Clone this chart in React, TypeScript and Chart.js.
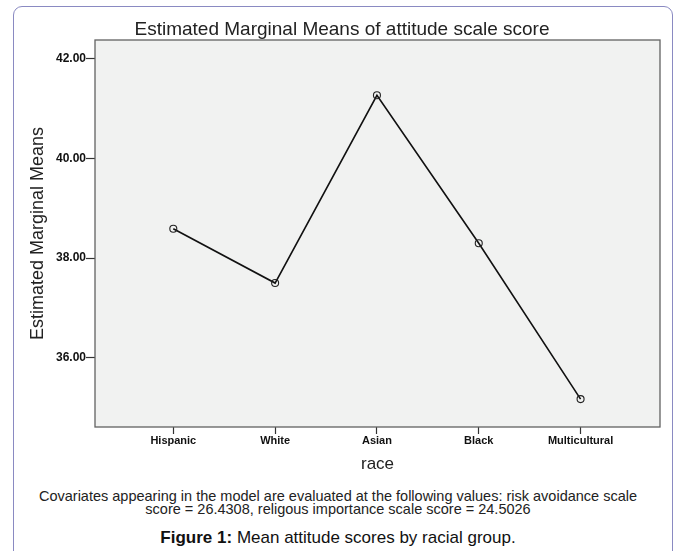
import React, { useEffect, useRef } from "react";
import { Chart, registerables } from "chart.js";

Chart.register(...registerables);

const categories = ["Hispanic", "White", "Asian", "Black", "Multicultural"];
const means = [38.59, 37.5, 41.27, 38.3, 35.17];
const yTicks = [36, 38, 40, 42];

const FONT = "'Liberation Sans', Arial, Helvetica, sans-serif";

const plotFrame = {
  id: "plotFrame",
  beforeDraw(chart: any) {
    const { ctx, chartArea: a } = chart;
    ctx.save();
    ctx.fillStyle = "#f1f2f1";
    ctx.fillRect(a.left, a.top, a.right - a.left, a.bottom - a.top);
    ctx.restore();
  },
  beforeDatasetsDraw(chart: any) {
    const { ctx, chartArea: a } = chart;
    ctx.save();
    ctx.strokeStyle = "#626262";
    ctx.lineWidth = 1.3;
    ctx.strokeRect(a.left, a.top, a.right - a.left, a.bottom - a.top);
    ctx.restore();
  },
};

export default function App() {
  const ref = useRef<HTMLCanvasElement | null>(null);

  useEffect(() => {
    document.body.style.margin = "0";
    const canvas = ref.current;
    if (!canvas) return;
    const chart = new Chart(canvas, {
      type: "line",
      data: {
        datasets: [
          {
            data: means.map((v, i) => ({ x: i, y: v })),
            borderColor: "#111",
            borderWidth: 1.6,
            pointRadius: 3.5,
            pointBorderWidth: 1.1,
            pointBorderColor: "#222",
            pointBackgroundColor: "rgba(0,0,0,0)",
            tension: 0,
          },
        ],
      },
      options: {
        animation: false,
        responsive: false,
        maintainAspectRatio: false,
        layout: { padding: { left: 8, right: 0, top: 0, bottom: 0 } },
        plugins: {
          legend: { display: false },
          tooltip: { enabled: false },
          title: {
            display: true,
            text: "Estimated Marginal Means of attitude scale score",
            color: "#222",
            font: { family: FONT, size: 19, weight: "normal", lineHeight: 1 },
            padding: { top: 20.5, bottom: 0.5 },
          },
        },
        scales: {
          x: {
            type: "linear",
            min: -0.769,
            max: 4.78,
            afterBuildTicks(scale: any) {
              scale.ticks = categories.map((_, i) => ({ value: i }));
            },
            afterFit(scale: any) {
              scale.height = 53;
            },
            ticks: {
              color: "#111",
              padding: 0,
              autoSkip: false,
              maxRotation: 0,
              font: { family: FONT, size: 11, weight: "bold" },
              callback: (v: any) => categories[Number(v)] ?? "",
            },
            grid: {
              drawOnChartArea: false,
              drawTicks: true,
              tickLength: 7,
              tickColor: "#333",
              tickWidth: 1.2,
            },
            border: { display: false },
            title: {
              display: true,
              text: "race",
              color: "#222",
              font: { family: FONT, size: 17, weight: "normal" },
              padding: { top: 0, bottom: 5.8 },
            },
          },
          y: {
            type: "linear",
            min: 34.61,
            max: 42.38,
            afterBuildTicks(scale: any) {
              scale.ticks = yTicks.map((v) => ({ value: v }));
            },
            afterFit(scale: any) {
              scale.width = 87;
            },
            ticks: {
              color: "#111",
              padding: 0,
              font: { family: FONT, size: 12, weight: "bold" },
              callback: (v: any) => Number(v).toFixed(2),
            },
            grid: {
              drawOnChartArea: false,
              drawTicks: true,
              tickLength: 9,
              tickColor: "#333",
              tickWidth: 1.2,
            },
            border: { display: false },
            title: {
              display: true,
              text: "Estimated Marginal Means",
              color: "#222",
              font: { family: FONT, size: 18, weight: "normal" },
              padding: { top: 19.2, bottom: 0 },
            },
          },
          yRight: {
            type: "linear",
            position: "right",
            min: 34.61,
            max: 42.38,
            afterFit(scale: any) {
              scale.width = 16;
            },
            ticks: { display: false },
            grid: { display: false },
            border: { display: false },
          },
        },
      },
      plugins: [plotFrame],
    });
    return () => chart.destroy();
  }, []);

  return (
    <div
      style={{
        position: "relative",
        width: 676,
        height: 551,
        overflow: "hidden",
        background: "#fff",
        fontFamily: FONT,
      }}
    >
      <div
        style={{
          position: "absolute",
          left: 13,
          top: 6,
          width: 660,
          height: 700,
          border: "1.5px solid #8a8ac2",
          borderRadius: 9,
          boxSizing: "border-box",
        }}
      />
      <canvas
        ref={ref}
        width={676}
        height={480}
        style={{ position: "absolute", left: 0, top: 0, width: 676, height: 480 }}
      />
      <div
        style={{
          position: "absolute",
          left: 0,
          width: 676,
          top: 489.5,
          textAlign: "center",
          fontSize: 14.5,
          lineHeight: "13.5px",
          color: "#222",
        }}
      >
        <div>Covariates appearing in the model are evaluated at the following values: risk avoidance scale</div>
        <div>score = 26.4308, religous importance scale score = 24.5026</div>
      </div>
      <div
        style={{
          position: "absolute",
          left: 0,
          width: 676,
          top: 528,
          textAlign: "center",
          fontSize: 17,
          lineHeight: "20px",
          color: "#111",
        }}
      >
        <b>Figure 1:</b> Mean attitude scores by racial group.
      </div>
    </div>
  );
}
